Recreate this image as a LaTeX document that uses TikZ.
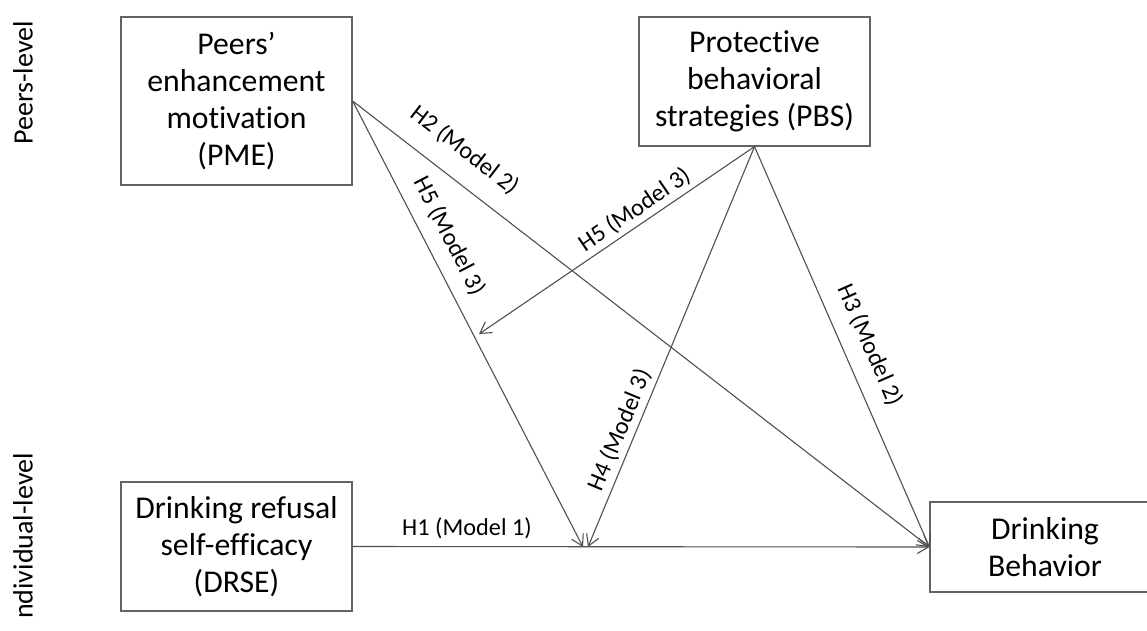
\documentclass[tikz,border=0pt]{standalone}
\usepackage{fontspec}
\setmainfont{Carlito}[Ligatures={NoCommon}]
\usetikzlibrary{arrows.meta}
\definecolor{linec}{RGB}{80,80,80}
\definecolor{boxc}{RGB}{100,100,100}
\begin{document}
\begin{tikzpicture}[x=1pt,y=-1pt,
  box/.style={draw=boxc, line width=1.2pt, align=center, inner sep=0pt,
    font=\fontsize{31.7}{37}\selectfont},
  conn/.style={draw=linec, line width=1.1pt, -{Straight Barb[length=11pt,width=13pt]}},
  lab/.style={font=\fontsize{24.3}{28}\selectfont, inner sep=0pt},
  side/.style={font=\fontsize{28}{32}\selectfont, inner sep=0pt, rotate=90}]
\useasboundingbox (0,0) rectangle (1147,630);
\path[clip] (0,0) rectangle (1147,630);
\fill[white] (0,0) rectangle (1147,630);

% side labels
\node[side] (lvlpeer) at (23,83) {Peers-level};
\node[side] (lvlind) at (23,536) {ndividual-level};

% boxes
\node[box, minimum width=231pt, minimum height=168pt] (pme) at (236.5,101)
  {Peers’\\enhancement\\motivation\\(PME)};
\node[box, minimum width=231pt, minimum height=129pt] (pbs) at (754.5,81.5)
  {Protective\\behavioral\\strategies (PBS)};
\node[box, minimum width=231pt, minimum height=129pt] (drse) at (236.5,546.5)
  {Drinking refusal\\self-efficacy\\(DRSE)};
\node[box, minimum width=230pt, minimum height=90pt] (db) at (1045,547)
  {Drinking\\Behavior};

% moderation targets
\coordinate (m1) at (583,547);
\coordinate (m2) at (588,547);
\coordinate (m3) at (479,334);

% connectors
\draw[conn] (drse.east) -- (db.west);
\draw[conn] (pme.east) -- (db.west);
\draw[conn] (pme.east) -- (m1);
\draw[conn] (pbs.south) -- (m2);
\draw[conn] (pbs.south) -- (db.west);
\draw[conn] (pbs.south) -- (m3);

% labels
\node[lab] (lh1) at (467,528) {H1 (Model 1)};
\node[lab, rotate=-37.6] (lh2) at (464.5,150) {H2 (Model 2)};
\node[lab, rotate=-62.6] (lh5a) at (449.5,236) {H5 (Model 3)};
\node[lab, rotate=34.3] (lh5b) at (634.5,210) {H5 (Model 3)};
\node[lab, rotate=67.5] (lh4) at (620,430) {H4 (Model 3)};
\node[lab, rotate=-66.4] (lh3) at (870,345) {H3 (Model 2)};
\end{tikzpicture}
\end{document}
